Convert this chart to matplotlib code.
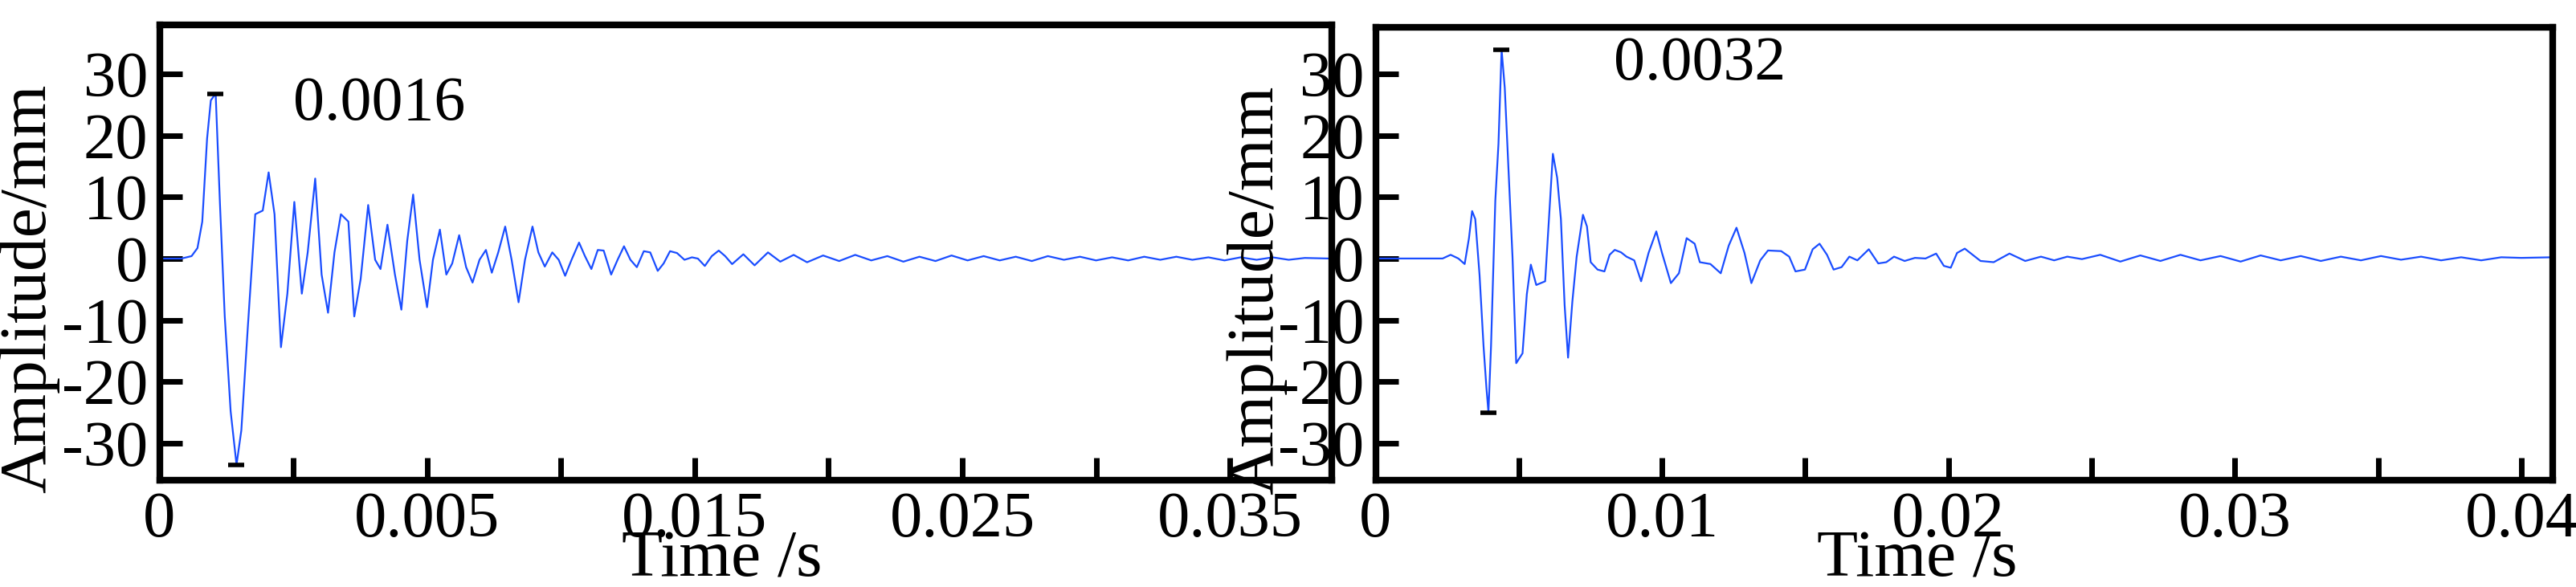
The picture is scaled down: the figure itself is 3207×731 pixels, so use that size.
import matplotlib.pyplot as plt

plt.rcParams['font.family'] = ['Liberation Serif', 'DejaVu Serif']

# left panel (time in ms)
t1_ms = [0, 0.41, 0.60, 0.71, 0.80, 0.89, 0.96, 1.05, 1.13, 1.22, 1.33, 1.44, 1.53, 1.65, 1.79, 1.93,
         2.04, 2.15, 2.27, 2.39, 2.52, 2.66, 2.77, 2.91, 3.03, 3.15, 3.27, 3.39, 3.53, 3.64, 3.76,
         3.90, 4.03, 4.13, 4.26, 4.40, 4.52, 4.63, 4.74, 4.86, 5.00, 5.11, 5.24, 5.36, 5.47, 5.60,
         5.73, 5.85, 5.98, 6.10, 6.21, 6.33, 6.46, 6.58, 6.71, 6.83, 6.97, 7.08, 7.20, 7.34, 7.46,
         7.58, 7.70, 7.84, 7.95, 8.07, 8.19, 8.30, 8.44, 8.56, 8.68, 8.80, 8.92, 9.05, 9.17, 9.31,
         9.42, 9.54, 9.67, 9.81, 9.95, 10.06, 10.19, 10.32, 10.45, 10.57, 10.70, 10.91, 11.12,
         11.37, 11.60, 11.85, 12.1, 12.4, 12.7, 13.0, 13.3, 13.6, 13.9, 14.2, 14.5, 14.8, 15.1,
         15.4, 15.7, 16.0, 16.3, 16.6, 16.9, 17.2, 17.5, 17.8, 18.1, 18.4, 18.7, 19.0, 19.3,
         19.6, 19.9, 20.2, 20.5, 20.8, 21.1, 21.4, 21.9]
amp1 = [0, 0, 0.4, 1.7, 6, 19.5, 25.7, 26.8, 9, -9.4, -24.8, -33.5, -27.9, -11.3, 7.2, 7.8,
        14, 7.2, -14.4, -5.7, 9.2, -5.7, 1, 13, -2.6, -8.8, 1, 7.2, 6, -9.4, -3.3,
        8.7, -0.2, -1.7, 5.5, -2.6, -8.3, 2.9, 10.4, -0.2, -7.9, -0.2, 4.7, -2.6, -0.8, 3.8,
        -1.4, -3.9, -0.2, 1.4, -2.3, 1, 5.2, -0.2, -7.1, -0.2, 5.2, 1, -1.3, 1, -0.2,
        -2.8, -0.2, 2.6, 0.4, -1.7, 1.4, 1.3, -2.6, -0.2, 2, -0.2, -1.4, 1.2, 1, -2,
        -0.8, 1.2, 0.9, -0.2, 0.2, 0, -1.2, 0.4, 1.3, 0.4, -0.9, 0.7, -1.1,
        1, -0.5, 0.6, -0.6, 0.5, -0.4, 0.6, -0.3, 0.4, -0.5, 0.3, -0.4, 0.5, -0.3,
        0.4, -0.3, 0.3, -0.4, 0.4, -0.2, 0.3, -0.3, 0.2, -0.3, 0.3, -0.2, 0.3, -0.2,
        0.2, -0.3, 0.2, -0.2, 0.2, -0.2, 0.1, 0]

# right panel
t2_ms = [0, 2.34, 2.62, 2.89, 3.11, 3.26, 3.37, 3.48, 3.63, 3.77, 3.87, 3.94, 4.03, 4.18, 4.29,
         4.40, 4.51, 4.63, 4.78, 4.91, 5.13, 5.28, 5.42, 5.61, 5.92, 6.06, 6.19, 6.34, 6.47,
         6.60, 6.72, 6.87, 7.02, 7.24, 7.38, 7.51, 7.75, 7.99, 8.17, 8.35, 8.57, 8.76, 9.03,
         9.27, 9.53, 9.80, 10.00, 10.31, 10.59, 10.86, 11.14, 11.32, 11.69, 12.05, 12.33, 12.60,
         12.88, 13.12, 13.43, 13.70, 14.16, 14.44, 14.66, 14.99, 15.26, 15.50, 15.76, 15.99,
         16.27, 16.54, 16.82, 17.22, 17.55, 17.83, 18.10, 18.47, 18.83, 19.20, 19.57, 19.84,
         20.08, 20.30, 20.57, 21.12, 21.58, 22.13, 22.68, 23.23, 23.69, 24.15, 24.66, 25.3,
         26.0, 26.7, 27.4, 28.1, 28.8, 29.5, 30.2, 30.9, 31.6, 32.3, 33.0, 33.7, 34.4, 35.1,
         35.8, 36.5, 37.2, 37.9, 38.6, 39.3, 40.0, 41.1]
amp2 = [0, 0, 0.6, 0, -0.9, 3.3, 7.7, 6.4, -2.7, -14.3, -21, -25, -14.3, 9.4, 18.6,
        33.9, 27.7, 15.5, 0.3, -17, -15.4, -5.8, -1, -4.3, -3.7, 7, 17, 13.1, 6.4,
        -7.6, -16.1, -7, 0.3, 7.1, 5.2, -0.6, -1.8, -2.1, 0.6, 1.4, 1, 0.3, -0.3,
        -3.7, 0.9, 4.4, 0.9, -4, -2.4, 3.3, 2.4, -0.6, -0.9, -2.4, 2.1, 5,
        0.9, -4, -0.3, 1.3, 1.2, 0.3, -2.1, -1.8, 1.5, 2.4, 0.6, -1.8,
        -1.4, 0.3, -0.3, 1.5, -0.8, -0.6, 0.3, -0.4, 0.1, 0, 0.8, -1.2,
        -1.5, 0.9, 1.6, -0.4, -0.6, 0.8, -0.4, 0.3, -0.3, 0.3, -0.1, 0.6,
        -0.5, 0.5, -0.4, 0.6, -0.3, 0.4, -0.5, 0.5, -0.3, 0.4, -0.4, 0.3, -0.3, 0.4,
        -0.2, 0.3, -0.3, 0.2, -0.3, 0.2, 0.1, 0.2]

yticks = [-30, -20, -10, 0, 10, 20, 30]
xt1 = [0, 5, 10, 15, 20]
xt1_labels = ['0', '0.005', '0.015', '0.025', '0.035']
xt2 = [0, 10, 20, 30, 40]
xt2_labels = ['0', '0.01', '0.02', '0.03', '0.04']

fig = plt.figure(figsize=(32.07, 7.31), dpi=100)
ax1 = fig.add_axes([0.0619, 0.182, 0.455, 0.776])
ax2 = fig.add_axes([0.534, 0.182, 0.457, 0.771])

blue = '#1a4dff'


def style(ax, xt, xl, minor_step, xmax, ymax, label_x):
    ax.set_xlim(0, xmax)
    ax.set_ylim(-36, ymax)
    ax.set_yticks(yticks)
    ax.set_yticklabels([str(v) for v in yticks], fontsize=58)
    ax.set_xticks(xt)
    ax.set_xticklabels(xl, fontsize=58)
    ax.set_xticks([v for v in [i * minor_step for i in range(1, 20)] if v < xmax], minor=True)
    ax.tick_params(which='both', direction='in', length=20, width=5, top=False, right=False, pad=10)
    for s in ax.spines.values():
        s.set_linewidth(6)
    ax.set_ylabel('Amplitude/mm', fontsize=60)
    ax.yaxis.set_label_coords(-0.085 if xmax < 30 else -0.075, 0.42)
    ax.set_xlabel('Time /s', fontsize=60)
    ax.xaxis.set_label_coords(label_x, -0.11)


ax1.plot(t1_ms, amp1, color=blue, lw=1.6)
ax1.plot([t1_ms[amp1.index(max(amp1))], t1_ms[amp1.index(min(amp1))]], [max(amp1), min(amp1)],
         ls='none', marker='_', color='black', ms=14, mew=4)
ax1.text(2.5, 25, '0.0016', fontsize=56, va='center')
style(ax1, xt1, xt1_labels, 2.5, 21.9, 38, 0.48)

ax2.plot(t2_ms, amp2, color=blue, lw=1.6)
ax2.plot([t2_ms[amp2.index(max(amp2))], t2_ms[amp2.index(min(amp2))]], [max(amp2), min(amp2)],
         ls='none', marker='_', color='black', ms=14, mew=4)
ax2.text(8.3, 31.5, '0.0032', fontsize=56, va='center')
style(ax2, xt2, xt2_labels, 5, 41.1, 37.5, 0.46)

fig.savefig('out.png', dpi=100)
